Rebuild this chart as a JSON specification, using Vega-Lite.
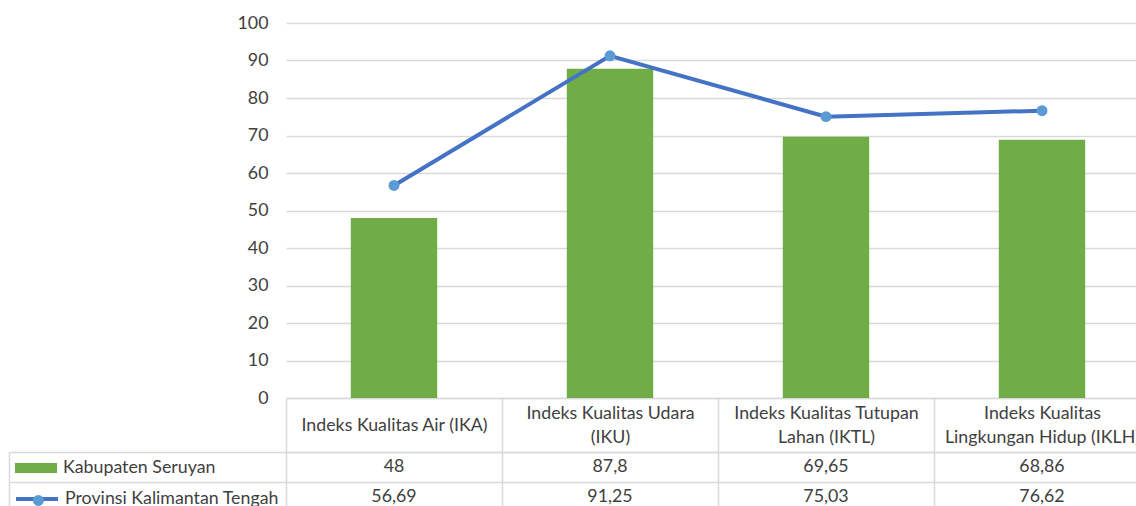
{
  "$schema": "https://vega.github.io/schema/vega-lite/v6.json",
  "autosize": {"type": "pad"},
  "padding": {"left": 8, "top": 14, "right": 0, "bottom": 0},
  "background": "white",
  "bounds": "flush",
  "spacing": 54,
  "config": {
    "view": {"stroke": null},
    "font": "Lato",
    "locale": {"number": {"decimal": ",", "thousands": ".", "grouping": [3], "currency": ["Rp", ""]}},
    "axis": {"labelFont": "Lato", "labelColor": "#404040", "labelFontSize": 17.8, "titleFont": "Lato"},
    "legend": {"labelFont": "Lato", "labelColor": "#404040", "labelFontSize": 17.8, "labelLimit": 0}
  },
  "datasets": {
    "indeks": [
      {"indeks": "Indeks Kualitas Air (IKA)", "series": "Kabupaten Seruyan", "value": 48},
      {"indeks": "Indeks Kualitas Udara (IKU)", "series": "Kabupaten Seruyan", "value": 87.8},
      {"indeks": "Indeks Kualitas Tutupan Lahan (IKTL)", "series": "Kabupaten Seruyan", "value": 69.65},
      {"indeks": "Indeks Kualitas Lingkungan Hidup (IKLH)", "series": "Kabupaten Seruyan", "value": 68.86},
      {"indeks": "Indeks Kualitas Air (IKA)", "series": "Provinsi Kalimantan Tengah", "value": 56.69},
      {"indeks": "Indeks Kualitas Udara (IKU)", "series": "Provinsi Kalimantan Tengah", "value": 91.25},
      {"indeks": "Indeks Kualitas Tutupan Lahan (IKTL)", "series": "Provinsi Kalimantan Tengah", "value": 75.03},
      {"indeks": "Indeks Kualitas Lingkungan Hidup (IKLH)", "series": "Provinsi Kalimantan Tengah", "value": 76.62}
    ]
  },
  "vconcat": [
    {
      "width": 864,
      "height": 375,
      "data": {"name": "indeks"},
      "encoding": {
        "x": {
          "field": "indeks",
          "type": "nominal",
          "sort": null,
          "scale": {"paddingInner": 0, "paddingOuter": 0},
          "axis": {"title": null, "labels": false, "ticks": false, "domain": true, "domainColor": "#D9D9D9", "domainWidth": 1.5}
        },
        "y": {
          "field": "value",
          "type": "quantitative",
          "scale": {"domain": [0, 100], "nice": false},
          "axis": {"title": null, "values": [0, 10, 20, 30, 40, 50, 60, 70, 80, 90, 100], "domain": false, "ticks": false, "labelPadding": 18, "gridColor": "#D9D9D9", "gridWidth": 1.5}
        }
      },
      "layer": [
        {
          "transform": [{"filter": "datum.series === 'Kabupaten Seruyan'"}],
          "mark": {"type": "bar", "width": {"band": 0.4}},
          "encoding": {
            "fill": {
              "field": "series",
              "type": "nominal",
              "scale": {"range": ["#70AD47"]},
              "legend": {"title": null, "orient": "none", "legendX": -272, "legendY": 423, "padding": 0, "symbolType": "M-1,-0.24H1V0.24H-1Z", "symbolSize": 1764, "symbolOpacity": 1, "labelOffset": 5}
            }
          }
        },
        {
          "transform": [{"filter": "datum.series === 'Provinsi Kalimantan Tengah'"}],
          "mark": {"type": "line", "strokeWidth": 4},
          "encoding": {
            "stroke": {
              "field": "series",
              "type": "nominal",
              "scale": {"range": ["#4472C4"]},
              "legend": {"title": null, "orient": "none", "legendX": -272, "legendY": 453, "padding": 0, "symbolType": "M-1,0H1", "symbolSize": 1764, "symbolStrokeWidth": 4, "labelOffset": 5}
            }
          }
        },
        {
          "transform": [{"filter": "datum.series === 'Provinsi Kalimantan Tengah'"}],
          "mark": {"type": "point", "filled": true, "size": 120, "opacity": 1},
          "encoding": {
            "color": {
              "field": "series",
              "type": "nominal",
              "scale": {"range": ["#5B9BD5"]},
              "legend": {"title": null, "orient": "none", "legendX": -256.5, "legendY": 468.5, "padding": 0, "symbolType": "circle", "symbolSize": 120, "symbolOpacity": 1, "labelExpr": "''"}
            }
          }
        }
      ]
    },
    {
      "width": 864,
      "height": 60,
      "data": {"name": "indeks"},
      "mark": {"type": "text", "fontSize": 17.8, "color": "#404040", "font": "Lato"},
      "encoding": {
        "x": {
          "field": "indeks",
          "type": "nominal",
          "sort": null,
          "scale": {"paddingInner": 0, "paddingOuter": 0},
          "axis": {
            "title": null,
            "orient": "top",
            "tickBand": "extent",
            "ticks": true,
            "tickSize": 54,
            "tickColor": "#D9D9D9",
            "tickWidth": 1.5,
            "domain": true,
            "domainColor": "#D9D9D9",
            "domainWidth": 1.5,
            "grid": true,
            "gridColor": "#D9D9D9",
            "gridWidth": 1.5,
            "labelAngle": 0,
            "labelBaseline": {"condition": {"test": "datum.value === 'Indeks Kualitas Air (IKA)'", "value": "middle"}, "value": "line-bottom"},
            "labelPadding": -27,
            "labelLineHeight": 24,
            "labelLimit": 0,
            "labelExpr": "datum.label === 'Indeks Kualitas Udara (IKU)' ? ['Indeks Kualitas Udara', '(IKU)'] : datum.label === 'Indeks Kualitas Tutupan Lahan (IKTL)' ? ['Indeks Kualitas Tutupan', 'Lahan (IKTL)'] : datum.label === 'Indeks Kualitas Lingkungan Hidup (IKLH)' ? ['Indeks Kualitas', 'Lingkungan Hidup (IKLH)'] : datum.label"
          }
        },
        "y": {
          "field": "series",
          "type": "nominal",
          "sort": null,
          "scale": {"paddingInner": 0, "paddingOuter": 0},
          "axis": {
            "title": null,
            "orient": "left",
            "offset": 277,
            "tickBand": "extent",
            "ticks": true,
            "tickSize": -277,
            "tickColor": "#D9D9D9",
            "tickWidth": 1.5,
            "domain": true,
            "domainColor": "#D9D9D9",
            "domainWidth": 1.5,
            "grid": true,
            "gridColor": "#D9D9D9",
            "gridWidth": 1.5,
            "labels": false
          }
        },
        "text": {"field": "value", "type": "quantitative", "format": "~g"}
      }
    }
  ]
}
